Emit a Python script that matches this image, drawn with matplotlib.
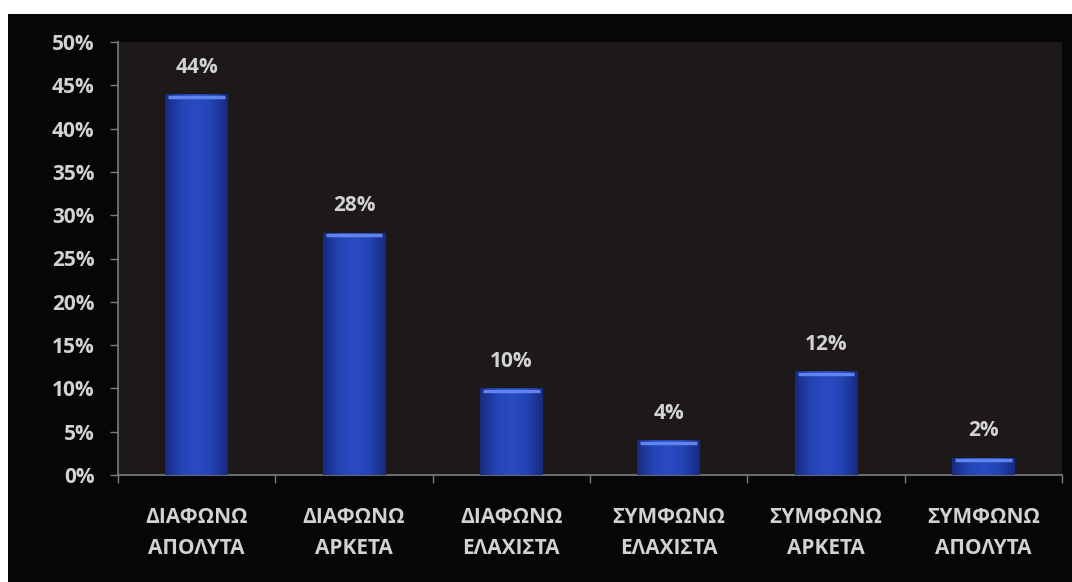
import numpy as np
import matplotlib
matplotlib.use("Agg")
import matplotlib.pyplot as plt
from matplotlib.patches import Rectangle
from matplotlib.colors import LinearSegmentedColormap

categories = ["ΔΙΑΦΩΝΩ\nΑΠΟΛΥΤΑ", "ΔΙΑΦΩΝΩ\nΑΡΚΕΤΑ", "ΔΙΑΦΩΝΩ\nΕΛΑΧΙΣΤΑ",
              "ΣΥΜΦΩΝΩ\nΕΛΑΧΙΣΤΑ", "ΣΥΜΦΩΝΩ\nΑΡΚΕΤΑ", "ΣΥΜΦΩΝΩ\nΑΠΟΛΥΤΑ"]
values = [44, 28, 10, 4, 12, 2]
yticks = [0, 5, 10, 15, 20, 25, 30, 35, 40, 45, 50]

W, H = 1072, 582
text_col = "#d2d2d2"
font = ["Open Sans", "DejaVu Sans"]
fs = 15

fig = plt.figure(figsize=(W / 100, H / 100), dpi=100, facecolor="white")
# black frame behind the chart
fig.patches.append(Rectangle((8 / W, 0), 1 - 8 / W, (H - 14) / H,
                             transform=fig.transFigure, facecolor="#060606",
                             edgecolor="none", zorder=-5))

ax = fig.add_axes([118 / W, (H - 475) / H, (1062 - 118) / W, (475 - 42) / H])
ax.set_facecolor("#1d1919")

x = np.arange(len(values))
bw = 0.4
bars = ax.bar(x, values, width=bw, color="#2545b8", zorder=2)

# horizontal shading on each bar, plus a light rim along the top
cmap = LinearSegmentedColormap.from_list(
    "bar", ["#172a80", "#2444b4", "#2a4cc2", "#2444b4", "#172a80"])
grad = np.linspace(0, 1, 64).reshape(1, -1)
for b, v in zip(bars, values):
    x0 = b.get_x()
    im = ax.imshow(grad, cmap=cmap, aspect="auto", extent=(x0, x0 + bw, 0, v), zorder=3)
    im.set_clip_path(b)
    ax.plot([x0 + 0.02, x0 + bw - 0.02], [v - 0.3, v - 0.3], color="#5f84ee",
            lw=2.5, solid_capstyle="butt", zorder=4)
    ax.text(x0 + bw / 2, v + 1.9, f"{v}%", ha="center", va="bottom",
            color=text_col, fontsize=fs, fontweight="bold", family=font)

ax.set_xlim(-0.5, len(values) - 0.5)
ax.set_ylim(0, 50)
ax.set_yticks(yticks)
ax.set_yticklabels([f"{t}%" for t in yticks])
ax.set_xticks(x)
ax.set_xticklabels(categories, linespacing=1.65)
ax.set_xticks(np.arange(len(values) + 1) - 0.5, minor=True)

for s in ["top", "right"]:
    ax.spines[s].set_visible(False)
for s in ["left", "bottom"]:
    ax.spines[s].set_color("#7d7d7d")
    ax.spines[s].set_linewidth(1.2)

ax.tick_params(axis="y", colors="#7d7d7d", length=6, width=1, pad=11)
ax.tick_params(axis="x", which="major", length=0, pad=23)
ax.tick_params(axis="x", which="minor", colors="#7d7d7d", length=6, width=1)
for lab in ax.get_yticklabels() + ax.get_xticklabels():
    lab.set_color(text_col)
    lab.set_fontsize(fs)
    lab.set_fontweight("bold")
    lab.set_family(font)

fig.savefig("out.png", dpi=100, facecolor="white")
